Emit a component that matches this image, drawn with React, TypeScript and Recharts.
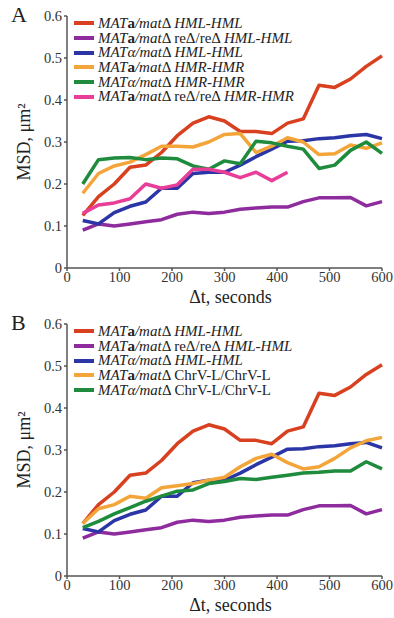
import React from 'react';
import { LineChart, Line, XAxis, YAxis, Legend } from 'recharts';

const T = [30, 60, 90, 120, 150, 180, 210, 240, 270, 300, 330, 360, 390, 420, 450, 480, 510, 540, 570, 600];
const X_TICKS = [0, 100, 200, 300, 400, 500, 600];
const Y_TICKS = [0, 0.1, 0.2, 0.3, 0.4, 0.5, 0.6];

// Panel A
const aRed = [0.125, 0.17, 0.2, 0.24, 0.245, 0.275, 0.315, 0.345, 0.36, 0.35, 0.325, 0.325, 0.32, 0.345, 0.355, 0.435, 0.43, 0.45, 0.48, 0.505];
const aPurple = [0.09, 0.105, 0.1, 0.105, 0.11, 0.115, 0.128, 0.133, 0.13, 0.133, 0.14, 0.143, 0.145, 0.145, 0.158, 0.167, 0.167, 0.168, 0.148, 0.158];
const aBlue = [0.113, 0.105, 0.132, 0.147, 0.157, 0.19, 0.19, 0.225, 0.228, 0.228, 0.245, 0.265, 0.283, 0.302, 0.303, 0.308, 0.31, 0.315, 0.318, 0.308];
const aOrange = [0.178, 0.225, 0.243, 0.252, 0.27, 0.29, 0.29, 0.288, 0.3, 0.318, 0.32, 0.275, 0.29, 0.31, 0.3, 0.27, 0.272, 0.293, 0.285, 0.298];
const aGreen = [0.2, 0.258, 0.262, 0.263, 0.258, 0.262, 0.26, 0.243, 0.235, 0.255, 0.248, 0.302, 0.298, 0.29, 0.283, 0.237, 0.245, 0.28, 0.3, 0.273];
const aPink = [0.13, 0.15, 0.155, 0.165, 0.2, 0.19, 0.198, 0.235, 0.235, 0.228, 0.215, 0.228, 0.208, 0.228];

// Panel B
const bRed = [0.125, 0.17, 0.2, 0.24, 0.245, 0.275, 0.315, 0.345, 0.36, 0.35, 0.323, 0.323, 0.315, 0.345, 0.355, 0.435, 0.43, 0.45, 0.48, 0.503];
const bPurple = [0.09, 0.105, 0.1, 0.105, 0.11, 0.115, 0.128, 0.133, 0.13, 0.133, 0.14, 0.143, 0.145, 0.145, 0.158, 0.167, 0.167, 0.168, 0.148, 0.158];
const bBlue = [0.113, 0.105, 0.132, 0.147, 0.157, 0.19, 0.19, 0.222, 0.228, 0.228, 0.245, 0.265, 0.283, 0.302, 0.303, 0.308, 0.31, 0.315, 0.318, 0.305];
const bOrange = [0.125, 0.16, 0.17, 0.19, 0.185, 0.21, 0.215, 0.22, 0.228, 0.235, 0.26, 0.28, 0.29, 0.27, 0.255, 0.26, 0.28, 0.305, 0.322, 0.33];
const bGreen = [0.115, 0.13, 0.148, 0.163, 0.178, 0.19, 0.202, 0.205, 0.22, 0.225, 0.232, 0.23, 0.235, 0.24, 0.245, 0.247, 0.25, 0.25, 0.272, 0.255];

const RED = '#d8401f';
const PURPLE = '#8e2c9e';
const BLUE = '#2b35a6';
const ORANGE = '#f4a53a';
const GREEN = '#1e8c3c';
const PINK = '#e83e98';

type Seg = [string, string];
const legendA: Seg[][] = [
  [['MAT', 'i'], ['a', 'b'], ['/mat', 'i'], ['Δ ', 'n'], ['HML-HML', 'i']],
  [['MAT', 'i'], ['a', 'b'], ['/mat', 'i'], ['Δ reΔ/reΔ ', 'n'], ['HML-HML', 'i']],
  [['MATα/mat', 'i'], ['Δ ', 'n'], ['HML-HML', 'i']],
  [['MAT', 'i'], ['a', 'b'], ['/mat', 'i'], ['Δ ', 'n'], ['HMR-HMR', 'i']],
  [['MATα/mat', 'i'], ['Δ ', 'n'], ['HMR-HMR', 'i']],
  [['MAT', 'i'], ['a', 'b'], ['/mat', 'i'], ['Δ reΔ/reΔ ', 'n'], ['HMR-HMR', 'i']],
];
const legendB: Seg[][] = [
  [['MAT', 'i'], ['a', 'b'], ['/mat', 'i'], ['Δ ', 'n'], ['HML-HML', 'i']],
  [['MAT', 'i'], ['a', 'b'], ['/mat', 'i'], ['Δ reΔ/reΔ ', 'n'], ['HML-HML', 'i']],
  [['MATα/mat', 'i'], ['Δ ', 'n'], ['HML-HML', 'i']],
  [['MAT', 'i'], ['a', 'b'], ['/mat', 'i'], ['Δ ChrV-L/ChrV-L', 'n']],
  [['MATα/mat', 'i'], ['Δ ChrV-L/ChrV-L', 'n']],
];

const buildRows = (series: (number[])[]) =>
  T.map((t, i) => {
    const row: any = { t };
    series.forEach((s, k) => {
      row['s' + k] = i < s.length ? s[i] : null;
    });
    return row;
  });

const dataA = buildRows([aRed, aPurple, aBlue, aOrange, aGreen, aPink]);
const dataB = buildRows([bRed, bPurple, bBlue, bOrange, bGreen]);
const colorsA = [RED, PURPLE, BLUE, ORANGE, GREEN, PINK];
const colorsB = [RED, PURPLE, BLUE, ORANGE, GREEN];

const FONT = '"Liberation Serif", "Times New Roman", serif';
const tickStyle = { fill: '#333', fontFamily: FONT, fontSize: 14.5 };

function LegendBox({ labels, colors }: { labels: Seg[][]; colors: string[] }) {
  return (
    <div style={{ fontFamily: FONT, fontSize: 15, color: '#222' }}>
      {labels.map((segs, i) => (
        <div key={i} style={{ display: 'flex', alignItems: 'center', height: 14.7, whiteSpace: 'nowrap' }}>
          <span style={{ display: 'inline-block', width: 20, height: 4, background: colors[i], marginRight: 4 }} />
          <span>
            {segs.map(([txt, st], j) => (
              <span
                key={j}
                style={{
                  fontStyle: st === 'i' ? 'italic' : 'normal',
                  fontWeight: st === 'b' ? 'bold' : 'normal',
                  whiteSpace: 'pre',
                }}
              >
                {txt}
              </span>
            ))}
          </span>
        </div>
      ))}
    </div>
  );
}

function Panel({ letter, data, colors, labels, top }: { letter: string; data: any[]; colors: string[]; labels: Seg[][]; top: number }) {
  return (
    <div style={{ position: 'absolute', left: 0, top, width: 394, height: 310 }}>
      <div style={{ position: 'absolute', left: 11, top: 4, fontFamily: FONT, fontSize: 22, color: '#222', lineHeight: '22px' }}>{letter}</div>
      <LineChart width={394} height={310} data={data} margin={{ top: 16, right: 12, bottom: 22, left: 0 }}>
        <XAxis
          dataKey="t"
          type="number"
          domain={[0, 600]}
          ticks={X_TICKS}
          height={20}
          stroke="#555"
          strokeWidth={1.5}
          tickSize={3}
          tickMargin={1}
          tick={tickStyle}
          label={{ value: 'Δt, seconds', position: 'bottom', offset: 2, dx: 6, style: { fill: '#222', fontFamily: FONT, fontSize: 18 } }}
        />
        <YAxis
          type="number"
          domain={[0, 0.6]}
          ticks={Y_TICKS}
          width={67}
          stroke="#555"
          strokeWidth={1.5}
          tickSize={3}
          tickMargin={2}
          tick={tickStyle}
          label={{ value: 'MSD, μm²', angle: -90, position: 'center', dx: -10, style: { fill: '#222', fontFamily: FONT, fontSize: 18, textAnchor: 'middle' } }}
        />
        <Legend
          layout="vertical"
          align="center"
          verticalAlign="middle"
          wrapperStyle={{ top: 16, left: 74, width: 'auto' }}
          content={() => <LegendBox labels={labels} colors={colors} />}
        />
        {colors.map((c, k) => (
          <Line
            key={k}
            dataKey={'s' + k}
            stroke={c}
            strokeWidth={3.5}
            dot={false}
            activeDot={false}
            isAnimationActive={false}
            type="linear"
            strokeLinejoin="round"
          />
        ))}
      </LineChart>
    </div>
  );
}

export default function App() {
  return (
    <div style={{ position: 'absolute', left: 0, top: 0, width: 394, height: 618, background: '#fff' }}>
      <Panel letter="A" data={dataA} colors={colorsA} labels={legendA} top={0} />
      <Panel letter="B" data={dataB} colors={colorsB} labels={legendB} top={308} />
    </div>
  );
}
